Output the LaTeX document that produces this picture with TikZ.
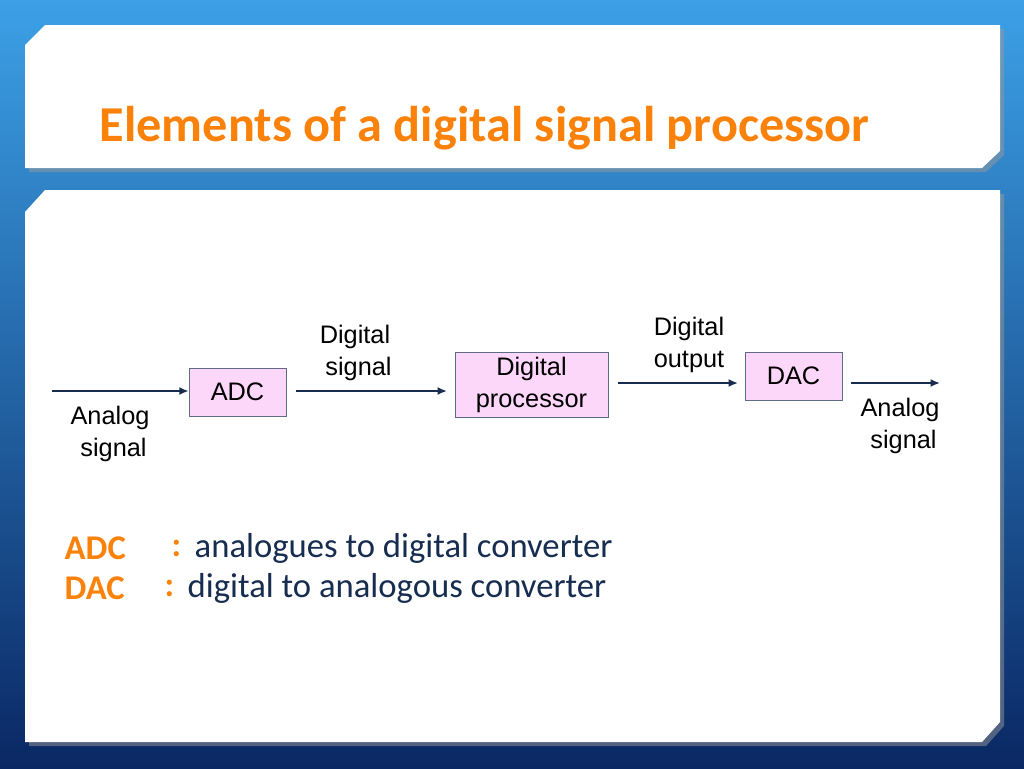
\documentclass[tikz,border=0pt]{standalone}
\usepackage{fontspec}
\setmainfont{Liberation Sans}
\newfontfamily\calfont{Carlito}
\usetikzlibrary{positioning,arrows.meta}
\definecolor{navy}{RGB}{23,45,80}
\definecolor{orangetitle}{RGB}{250,130,10}
\definecolor{boxpink}{RGB}{252,215,250}
\definecolor{bgtop}{RGB}{60,160,230}
\definecolor{bgbot}{RGB}{10,40,100}
\tikzset{
  blockbox/.style={draw=navy!70,fill=boxpink,minimum width=72.75pt,minimum height=36pt,font=\fontsize{19}{23.5}\selectfont,align=center,inner sep=0pt},
  sigtext/.style={font=\fontsize{19}{23.5}\selectfont,align=center,inner sep=0pt},
  flow/.style={draw=navy,line width=1.5pt,-{Latex[length=7pt,width=6pt]}}
}
\begin{document}
\begin{tikzpicture}[x=0.75pt,y=0.75pt,yscale=-1,xscale=1]
\useasboundingbox (0,0) rectangle (1024,768);
% background
\shade[top color=bgtop,bottom color=bgbot] (0,0) rectangle (1024,768);
% panels
\fill[black!40,opacity=0.5] (29,49) -- (49,29) -- (1004,29) -- (1004,155) -- (986,172) -- (29,172) -- cycle;
\fill[white] (25,45) -- (45,25) -- (1000,25) -- (1000,151) -- (982,168) -- (25,168) -- cycle;
\fill[black!40,opacity=0.5] (29,216) -- (49,194) -- (1004,194) -- (1004,726) -- (986,746) -- (29,746) -- cycle;
\fill[white] (25,212) -- (45,190) -- (1000,190) -- (1000,722) -- (982,742) -- (25,742) -- cycle;
% Text Node
\node[anchor=west,text=orangetitle,font=\calfont\bfseries\fontsize{37.7}{42}\selectfont] (title) at (95,128) {Elements of a digital signal processor};
% blocks
\node[blockbox] (adc) at (237.5,392) {ADC};
\node[blockbox,minimum width=114.75pt,minimum height=48.75pt] (proc) at (531.5,385) {Digital\\processor};
\node[blockbox] (dac) at (793.5,376) {DAC};
\coordinate (in) at (52,391);
\coordinate (out) at (940,383);
\draw[flow] (in) -- (adc.west |- in);
\draw[flow] (296,391) coordinate (a1) -- (447,391) coordinate (a2);
\draw[flow] (618,383) coordinate (b1) -- (738,383) coordinate (b2);
\draw[flow] (851,383) coordinate (c1) -- (out);
% Text Node
\node[sigtext] (anin) at (110,434) {Analog\\\ signal};
\node[sigtext] (digsig) at (355,353) {Digital\\\ signal};
\node[sigtext] (digout) at (689,345) {Digital\\output};
\node[sigtext] (anout) at (900,426) {Analog\\\ signal};
% legend
\node[anchor=west,text=orangetitle,font=\calfont\bfseries\fontsize{26}{30}\selectfont] (adck) at (60,548) {ADC};
\node[anchor=west,text=orangetitle,font=\calfont\bfseries\fontsize{26}{30}\selectfont] (adcc) at (167,548) {:};
\node[anchor=west,text=navy,font=\calfont\fontsize{26}{30}\selectfont] (adcv) at (190,548) {analogues to digital converter};
\node[anchor=west,text=orangetitle,font=\calfont\bfseries\fontsize{26}{30}\selectfont] (dack) at (60,588) {DAC};
\node[anchor=west,text=orangetitle,font=\calfont\bfseries\fontsize{26}{30}\selectfont] (dacc) at (160,588) {:};
\node[anchor=west,text=navy,font=\calfont\fontsize{26}{30}\selectfont] (dacv) at (183,588) {digital to analogous converter};
\end{tikzpicture}
\end{document}
